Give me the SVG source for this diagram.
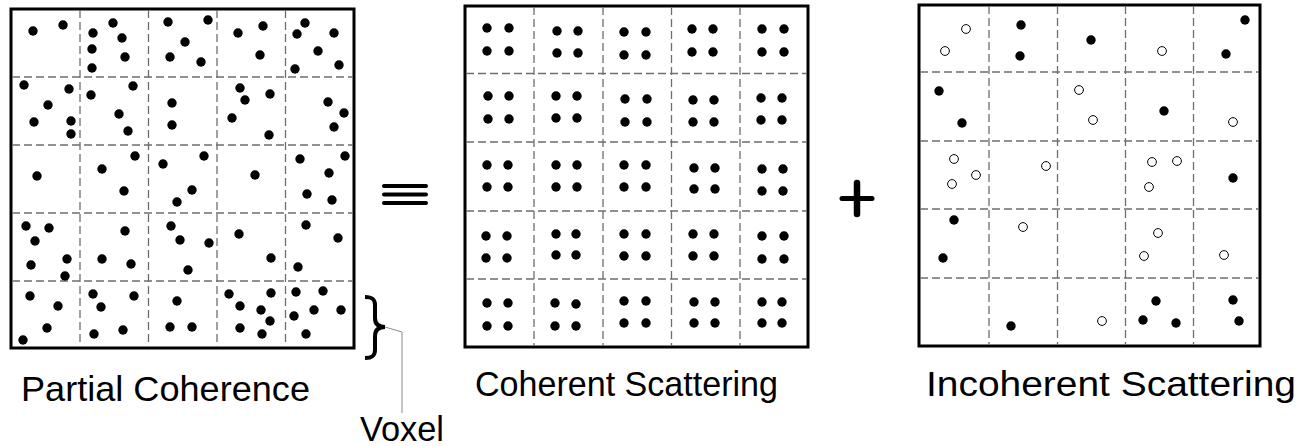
<svg xmlns="http://www.w3.org/2000/svg" width="1306" height="446" viewBox="0 0 1306 446">
<style>
.frame{fill:none;stroke:#000;stroke-width:3}
.grid{stroke:#6e6e6e;stroke-width:1.3;stroke-dasharray:8 4;fill:none}
.d{fill:#000}
.o{fill:#fff;stroke:#000;stroke-width:1}
.title{font-family:"Liberation Sans",Arial,sans-serif;font-size:35px;fill:#000}
.bar{stroke:#000;stroke-linecap:round;fill:none}
</style>
<rect width="1306" height="446" fill="#fff"/>

<g id="panel-partial">
<rect class="frame" x="11" y="9" width="343" height="339"/>
<g class="grid">
<path d="M80,10V347M148.5,10V347M217,10V347M285.5,10V347M12,77H353M12,145H353M12,213H353M12,281H353"/>
</g>
<g class="d">
<circle cx="33" cy="31" r="4.7"/><circle cx="63" cy="25" r="4.7"/>
<circle cx="93" cy="33" r="4.7"/><circle cx="113" cy="23" r="4.7"/><circle cx="122" cy="38" r="4.7"/><circle cx="92" cy="49" r="4.7"/><circle cx="125" cy="57" r="4.7"/><circle cx="92" cy="68" r="4.7"/>
<circle cx="168" cy="22" r="4.7"/><circle cx="208" cy="20" r="4.7"/><circle cx="185" cy="42" r="4.7"/><circle cx="170" cy="57" r="4.7"/><circle cx="201" cy="62" r="4.7"/>
<circle cx="238" cy="33" r="4.7"/><circle cx="263" cy="26" r="4.7"/><circle cx="260" cy="55" r="4.7"/>
<circle cx="305" cy="23" r="4.7"/><circle cx="297" cy="34" r="4.7"/><circle cx="334" cy="33" r="4.7"/><circle cx="318" cy="51" r="4.7"/><circle cx="295" cy="69" r="4.7"/><circle cx="339" cy="65" r="4.7"/>
<circle cx="24" cy="85" r="4.7"/><circle cx="69" cy="89" r="4.7"/><circle cx="48" cy="105" r="4.7"/><circle cx="34" cy="122" r="4.7"/><circle cx="71" cy="121" r="4.7"/><circle cx="71" cy="134" r="4.7"/>
<circle cx="91" cy="95" r="4.7"/><circle cx="133" cy="86" r="4.7"/><circle cx="119" cy="114" r="4.7"/><circle cx="128" cy="131" r="4.7"/>
<circle cx="172" cy="103" r="4.7"/><circle cx="172" cy="125" r="4.7"/>
<circle cx="240" cy="88" r="4.7"/><circle cx="245" cy="100" r="4.7"/><circle cx="270" cy="94" r="4.7"/><circle cx="232" cy="118" r="4.7"/><circle cx="269" cy="135" r="4.7"/>
<circle cx="328" cy="102" r="4.7"/><circle cx="344" cy="113" r="4.7"/><circle cx="334" cy="127" r="4.7"/>
<circle cx="37" cy="176" r="4.7"/>
<circle cx="102" cy="169" r="4.7"/><circle cx="135" cy="156" r="4.7"/><circle cx="124" cy="191" r="4.7"/>
<circle cx="163" cy="164" r="4.7"/><circle cx="204" cy="156" r="4.7"/><circle cx="192" cy="190" r="4.7"/><circle cx="177" cy="202" r="4.7"/>
<circle cx="255" cy="175" r="4.7"/>
<circle cx="300" cy="159" r="4.7"/><circle cx="345" cy="156" r="4.7"/><circle cx="329" cy="173" r="4.7"/><circle cx="307" cy="194" r="4.7"/><circle cx="332" cy="200" r="4.7"/>
<circle cx="26" cy="226" r="4.7"/><circle cx="49" cy="228" r="4.7"/><circle cx="35" cy="241" r="4.7"/><circle cx="31" cy="265" r="4.7"/><circle cx="67" cy="259" r="4.7"/><circle cx="65" cy="276" r="4.7"/>
<circle cx="125" cy="231" r="4.7"/><circle cx="102" cy="259" r="4.7"/><circle cx="131" cy="264" r="4.7"/>
<circle cx="171" cy="226" r="4.7"/><circle cx="180" cy="240" r="4.7"/><circle cx="209" cy="243" r="4.7"/><circle cx="188" cy="270" r="4.7"/>
<circle cx="239" cy="234" r="4.7"/><circle cx="271" cy="258" r="4.7"/>
<circle cx="306" cy="225" r="4.7"/><circle cx="338" cy="238" r="4.7"/><circle cx="298" cy="267" r="4.7"/>
<circle cx="30" cy="296" r="4.7"/><circle cx="58" cy="306" r="4.7"/><circle cx="47" cy="328" r="4.7"/><circle cx="23" cy="340" r="4.7"/>
<circle cx="93" cy="294" r="4.7"/><circle cx="134" cy="296" r="4.7"/><circle cx="101" cy="307" r="4.7"/><circle cx="94" cy="334" r="4.7"/><circle cx="123" cy="330" r="4.7"/>
<circle cx="177" cy="301" r="4.7"/><circle cx="170" cy="327" r="4.7"/><circle cx="192" cy="327" r="4.7"/>
<circle cx="229" cy="294" r="4.7"/><circle cx="271" cy="293" r="4.7"/><circle cx="240" cy="306" r="4.7"/><circle cx="261" cy="310" r="4.7"/><circle cx="270" cy="321" r="4.7"/><circle cx="240" cy="328" r="4.7"/><circle cx="262" cy="334" r="4.7"/>
<circle cx="296" cy="292" r="4.7"/><circle cx="323" cy="291" r="4.7"/><circle cx="294" cy="316" r="4.7"/><circle cx="314" cy="310" r="4.7"/><circle cx="341" cy="310" r="4.7"/><circle cx="306" cy="334" r="4.7"/>
</g>
<text class="title" x="21" y="401" textLength="289" lengthAdjust="spacingAndGlyphs">Partial Coherence</text>
</g>

<g id="equiv">
<path class="bar" stroke-width="4" d="M384,186H426M384,194.5H426M384,203H426"/>
</g>

<g id="voxel">
<path d="M365,297C372,297 375,299 375,305V318C375,324 378,327 385,327C378,327 375,330 375,336V350C375,356 372,358 365,358" fill="none" stroke="#000" stroke-width="4"/>
<text class="title" x="360" y="441" textLength="84" lengthAdjust="spacingAndGlyphs">Voxel</text>
</g>

<g id="panel-coherent">
<rect class="frame" x="465" y="6" width="343" height="341"/>
<g class="grid">
<path d="M534,7V346M603,7V346M671.5,7V346M740,7V346M466,73.5H807M466,142H807M466,211H807M466,279H807"/>
</g>
<g class="d">
<circle cx="487" cy="28" r="4.7"/><circle cx="509" cy="28" r="4.7"/><circle cx="487" cy="51" r="4.7"/><circle cx="509" cy="51" r="4.7"/>
<circle cx="557" cy="31" r="4.7"/><circle cx="578" cy="31" r="4.7"/><circle cx="557" cy="53" r="4.7"/><circle cx="578" cy="53" r="4.7"/>
<circle cx="624" cy="32" r="4.7"/><circle cx="646" cy="32" r="4.7"/><circle cx="624" cy="55" r="4.7"/><circle cx="646" cy="55" r="4.7"/>
<circle cx="692" cy="29" r="4.7"/><circle cx="713" cy="29" r="4.7"/><circle cx="692" cy="52" r="4.7"/><circle cx="713" cy="52" r="4.7"/>
<circle cx="762" cy="29" r="4.7"/><circle cx="784" cy="29" r="4.7"/><circle cx="762" cy="52" r="4.7"/><circle cx="784" cy="52" r="4.7"/>
<circle cx="488" cy="96" r="4.7"/><circle cx="509" cy="96" r="4.7"/><circle cx="488" cy="119" r="4.7"/><circle cx="509" cy="119" r="4.7"/>
<circle cx="556" cy="96" r="4.7"/><circle cx="577" cy="96" r="4.7"/><circle cx="556" cy="118" r="4.7"/><circle cx="577" cy="118" r="4.7"/>
<circle cx="625" cy="99" r="4.7"/><circle cx="647" cy="99" r="4.7"/><circle cx="625" cy="122" r="4.7"/><circle cx="647" cy="122" r="4.7"/>
<circle cx="693" cy="100" r="4.7"/><circle cx="714" cy="100" r="4.7"/><circle cx="693" cy="122" r="4.7"/><circle cx="714" cy="122" r="4.7"/>
<circle cx="761" cy="98" r="4.7"/><circle cx="782" cy="98" r="4.7"/><circle cx="761" cy="120" r="4.7"/><circle cx="782" cy="120" r="4.7"/>
<circle cx="487" cy="165" r="4.7"/><circle cx="508" cy="165" r="4.7"/><circle cx="487" cy="187" r="4.7"/><circle cx="508" cy="187" r="4.7"/>
<circle cx="556" cy="165" r="4.7"/><circle cx="577" cy="165" r="4.7"/><circle cx="556" cy="187" r="4.7"/><circle cx="577" cy="187" r="4.7"/>
<circle cx="624" cy="165" r="4.7"/><circle cx="646" cy="165" r="4.7"/><circle cx="624" cy="187" r="4.7"/><circle cx="646" cy="187" r="4.7"/>
<circle cx="694" cy="168" r="4.7"/><circle cx="715" cy="168" r="4.7"/><circle cx="694" cy="189" r="4.7"/><circle cx="715" cy="189" r="4.7"/>
<circle cx="762" cy="169" r="4.7"/><circle cx="783" cy="169" r="4.7"/><circle cx="762" cy="191" r="4.7"/><circle cx="783" cy="191" r="4.7"/>
<circle cx="486" cy="236" r="4.7"/><circle cx="507" cy="236" r="4.7"/><circle cx="486" cy="258" r="4.7"/><circle cx="507" cy="258" r="4.7"/>
<circle cx="556" cy="234" r="4.7"/><circle cx="576" cy="234" r="4.7"/><circle cx="556" cy="255" r="4.7"/><circle cx="576" cy="255" r="4.7"/>
<circle cx="624" cy="234" r="4.7"/><circle cx="646" cy="234" r="4.7"/><circle cx="624" cy="256" r="4.7"/><circle cx="646" cy="256" r="4.7"/>
<circle cx="693" cy="234" r="4.7"/><circle cx="714" cy="234" r="4.7"/><circle cx="693" cy="256" r="4.7"/><circle cx="714" cy="256" r="4.7"/>
<circle cx="762" cy="236" r="4.7"/><circle cx="784" cy="236" r="4.7"/><circle cx="762" cy="259" r="4.7"/><circle cx="784" cy="259" r="4.7"/>
<circle cx="487" cy="303" r="4.7"/><circle cx="508" cy="303" r="4.7"/><circle cx="487" cy="326" r="4.7"/><circle cx="508" cy="326" r="4.7"/>
<circle cx="555" cy="303" r="4.7"/><circle cx="576" cy="304" r="4.7"/><circle cx="555" cy="326" r="4.7"/><circle cx="576" cy="326" r="4.7"/>
<circle cx="624" cy="301" r="4.7"/><circle cx="646" cy="301" r="4.7"/><circle cx="624" cy="323" r="4.7"/><circle cx="646" cy="323" r="4.7"/>
<circle cx="694" cy="302" r="4.7"/><circle cx="715" cy="302" r="4.7"/><circle cx="694" cy="323" r="4.7"/><circle cx="715" cy="323" r="4.7"/>
<circle cx="762" cy="302" r="4.7"/><circle cx="782" cy="302" r="4.7"/><circle cx="762" cy="323" r="4.7"/><circle cx="782" cy="323" r="4.7"/>
</g>
<text class="title" x="475" y="396" textLength="303" lengthAdjust="spacingAndGlyphs">Coherent Scattering</text>
</g>

<g id="plus">
<path class="bar" stroke-linecap="butt" stroke-width="5" d="M842,198.5H872"/>
<path class="bar" stroke-linecap="butt" stroke-width="6.5" d="M857,183V214"/>
</g>

<g id="panel-incoherent">
<rect class="frame" x="919" y="5" width="341" height="341"/>
<g class="grid">
<path d="M989,6V345M1057.5,6V345M1125.5,6V345M1193.5,6V345M920,72H1259M920,141H1259M920,209H1259M920,278H1259"/>
</g>
<g class="d">
<circle cx="1021" cy="25" r="4.7"/><circle cx="1020" cy="56" r="4.7"/><circle cx="1091" cy="40" r="4.7"/><circle cx="1245" cy="20" r="4.7"/><circle cx="1226" cy="54" r="4.7"/>
<circle cx="939" cy="91" r="4.7"/><circle cx="962" cy="123" r="4.7"/><circle cx="1164" cy="111" r="4.7"/>
<circle cx="1233" cy="178" r="4.7"/><circle cx="954" cy="220" r="4.7"/><circle cx="943" cy="258" r="4.7"/>
<circle cx="1011" cy="326" r="4.7"/><circle cx="1156" cy="301" r="4.7"/><circle cx="1143" cy="320" r="4.7"/><circle cx="1176" cy="323" r="4.7"/><circle cx="1233" cy="300" r="4.7"/><circle cx="1239" cy="321" r="4.7"/>
</g>
<g class="o">
<circle cx="966" cy="29" r="4.4"/><circle cx="945" cy="51" r="4.4"/><circle cx="1162" cy="51" r="4.4"/>
<circle cx="1079" cy="90" r="4.4"/><circle cx="1093" cy="120" r="4.4"/><circle cx="1233" cy="122" r="4.4"/>
<circle cx="954" cy="159" r="4.4"/><circle cx="976" cy="175" r="4.4"/><circle cx="952" cy="184" r="4.4"/><circle cx="1046" cy="166" r="4.4"/>
<circle cx="1152" cy="162" r="4.4"/><circle cx="1177" cy="161" r="4.4"/><circle cx="1149" cy="187" r="4.4"/>
<circle cx="1023" cy="227" r="4.4"/><circle cx="1158" cy="233" r="4.4"/><circle cx="1144" cy="256" r="4.4"/><circle cx="1224" cy="255" r="4.4"/>
<circle cx="1102" cy="321" r="4.4"/>
</g>
<text class="title" x="926" y="396" textLength="370" lengthAdjust="spacingAndGlyphs">Incoherent Scattering</text>
</g>

<g id="connectors">
<path d="M385,327L402,332V413" fill="none" stroke="#8a8a8a" stroke-width="1"/>
</g>
</svg>
